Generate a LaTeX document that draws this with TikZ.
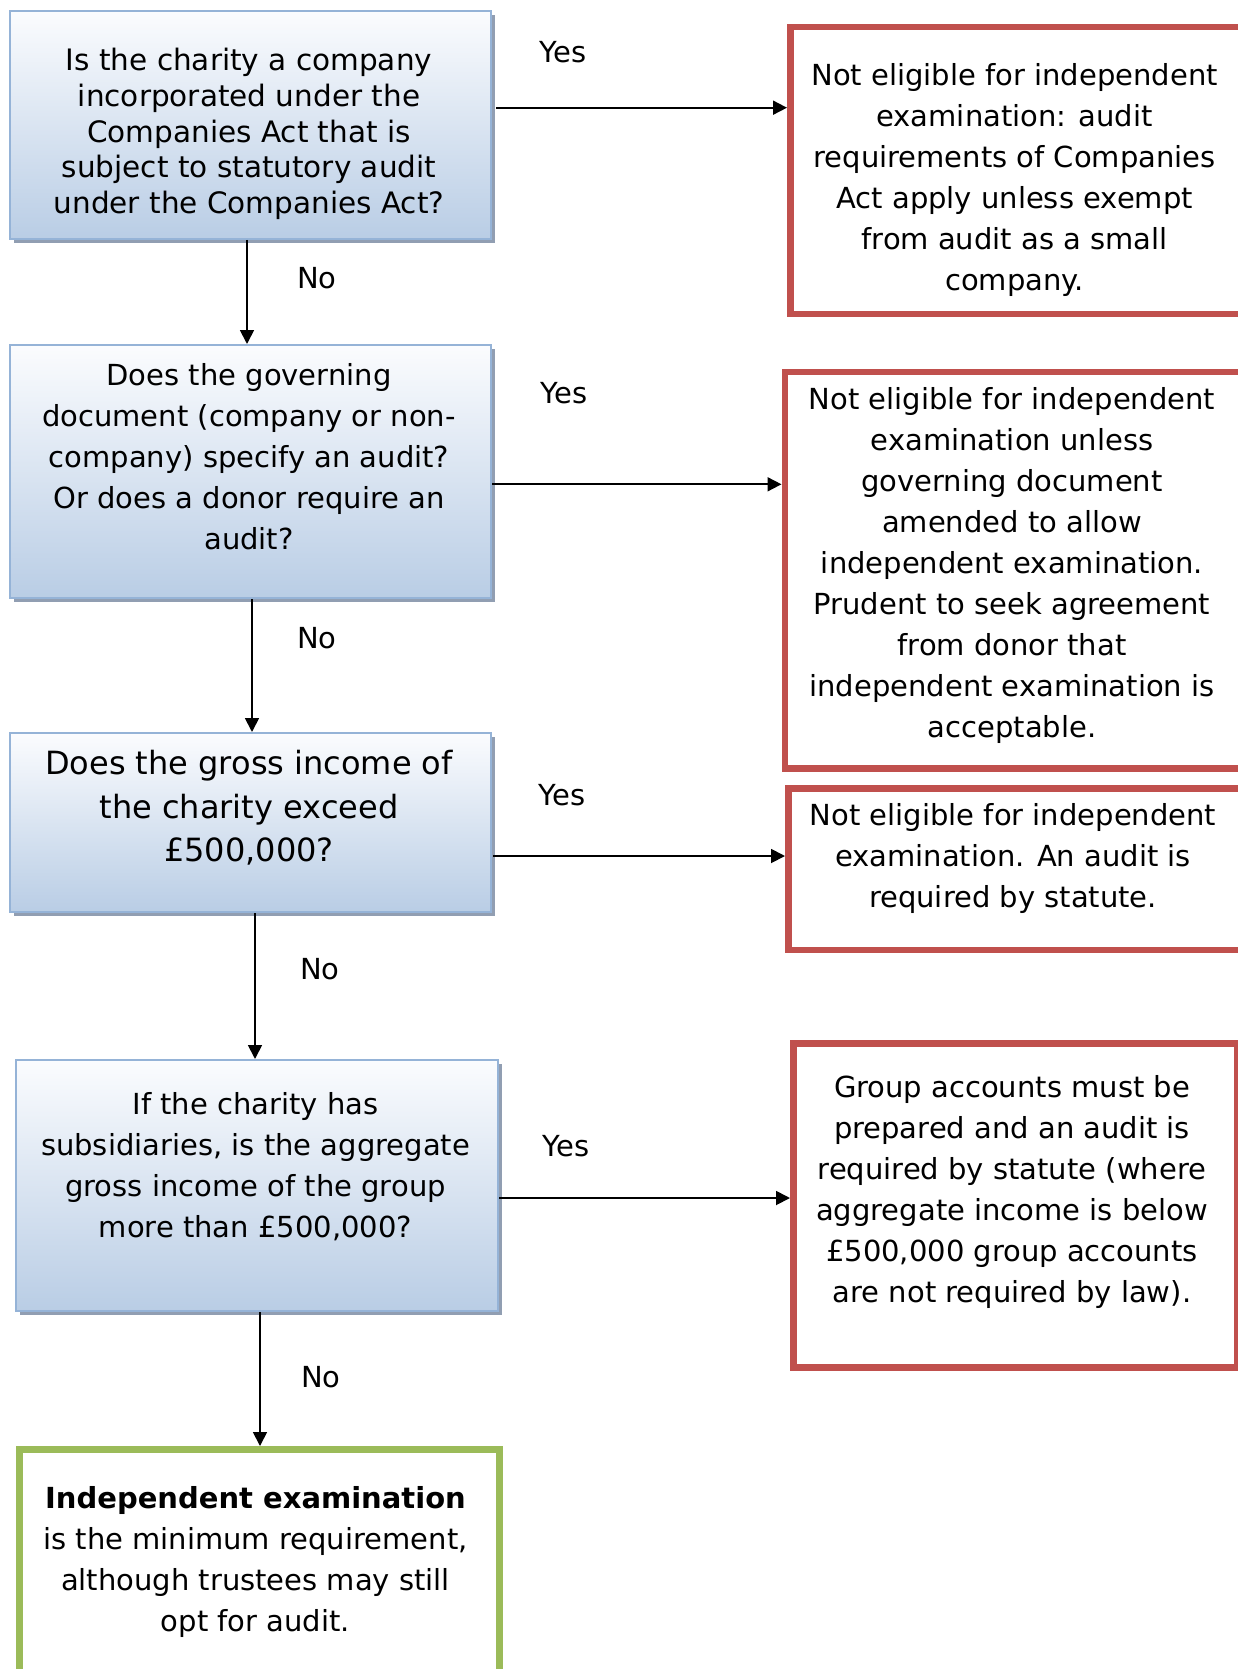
\documentclass[tikz,border=0pt]{standalone}
\usepackage{fontspec}
\setmainfont{DejaVu Sans}
\usetikzlibrary{arrows.meta,shadows}
\definecolor{qbot}{RGB}{185,205,229}
\definecolor{qtop}{RGB}{251,252,254}
\definecolor{qborder}{RGB}{149,179,215}
\definecolor{qshadow}{RGB}{145,158,178}
\definecolor{redb}{RGB}{192,80,77}
\definecolor{greenb}{RGB}{155,187,89}
\begin{document}
\begin{tikzpicture}[x=1pt,y=-1pt,
 qbox/.style={rectangle, anchor=north west, draw=qborder, line width=2pt,
   top color=qtop, bottom color=qbot,
   drop shadow={shadow xshift=4pt, shadow yshift=-4pt, fill=qshadow, opacity=1}},
 rbox/.style={rectangle, anchor=north west, draw=redb, line width=6.5pt, fill=white},
 gbox/.style={rectangle, anchor=north west, draw=greenb, line width=6.5pt, fill=white},
 txt/.style={align=center, inner sep=0pt, font=\fontsize{29}{41}\selectfont},
 lbl/.style={inner sep=0pt, font=\fontsize{29}{35}\selectfont},
 arr/.style={-{Triangle[length=14pt,width=14pt]}, line width=1.8pt, draw=black}]
\useasboundingbox (0,0) rectangle (1238,1669);
\clip (0,0) rectangle (1238,1669);
\fill[white] (0,0) rectangle (1238,1669);

% question boxes
\node[qbox, minimum width=481pt, minimum height=228pt] (q1) at (9,10) {};
\node[qbox, minimum width=481pt, minimum height=253pt] (q2) at (9,344) {};
\node[qbox, minimum width=481pt, minimum height=179pt] (q3) at (9,732) {};
\node[qbox, minimum width=482pt, minimum height=251pt] (q4) at (15,1059) {};

% outcome boxes
\node[rbox, minimum width=456pt, minimum height=287pt] (r1) at (787,24) {};
\node[rbox, minimum width=461.5pt, minimum height=396.5pt] (r2) at (781.5,368.5) {};
\node[rbox, minimum width=458pt, minimum height=161.5pt] (r3) at (785,785) {};
\node[rbox, minimum width=444pt, minimum height=324pt] (r4) at (790,1040) {};
\node[gbox, minimum width=480pt, minimum height=244pt] (g) at (16,1446) {};

% texts
\node[txt, font=\fontsize{29.5}{35.7}\selectfont] (q1t) at (249,134)
 {Is the charity a company\\incorporated under the\\Companies Act that is\\subject to statutory audit\\under the Companies Act?};
\node[txt] (q2t) at (249,456.7)
 {Does the governing\\document (company or non-\\company) specify an audit?\\Or does a donor require an\\audit?};
\node[txt, font=\fontsize{32}{43.6}\selectfont] (q3t) at (249,808)
 {Does the gross income of\\the charity exceed\\£500,000?};
\node[txt] (q4t) at (255.5,1166.7)
 {If the charity has\\subsidiaries, is the aggregate\\gross income of the group\\more than £500,000?};
\node[txt] (r1t) at (1014.6,180)
 {Not eligible for independent\\examination: audit\\requirements of Companies\\Act apply unless exempt\\from audit as a small\\company.};
\node[txt] (r2t) at (1012,565)
 {Not eligible for independent\\examination unless\\governing document\\amended to allow\\independent examination.\\Prudent to seek agreement\\from donor that\\independent examination is\\acceptable.};
\node[txt] (r3t) at (1013,858)
 {Not eligible for independent\\examination. An audit is\\required by statute.};
\node[txt] (r4t) at (1012,1191.5)
 {Group accounts must be\\prepared and an audit is\\required by statute (where\\aggregate income is below\\£500,000 group accounts\\are not required by law).};
\node[txt] (gt) at (255.5,1561.5)
 {\textbf{Independent examination}\\is the minimum requirement,\\although trustees may still\\opt for audit.};

% labels
\node[lbl] (y1) at (563,52) {Yes};
\node[lbl] (n1) at (317,278) {No};
\node[lbl] (y2) at (564,393) {Yes};
\node[lbl] (n2) at (317,638) {No};
\node[lbl] (y3) at (562,795) {Yes};
\node[lbl] (n3) at (320,969) {No};
\node[lbl] (y4) at (566,1146) {Yes};
\node[lbl] (n4) at (321,1377) {No};

% connector guides
\coordinate (ha) at (0,107.7);
\coordinate (hb) at (0,484.3);
\coordinate (hc) at (0,856);
\coordinate (hd) at (0,1198);
\coordinate (va) at (247,0);
\coordinate (vb) at (252,0);
\coordinate (vc) at (255,0);
\coordinate (vd) at (260,0);

\draw[arr, shorten <=4pt] (q1.east |- ha) -- (r1.west |- ha);
\draw[arr] (q2.east |- hb) -- (r2.west |- hb);
\draw[arr, shorten <=1pt] (q3.east |- hc) -- (r3.west |- hc);
\draw[arr] (q4.east |- hd) -- (r4.west |- hd);

\draw[arr] (q1.south -| va) -- (q2.north -| va);
\draw[arr] (q2.south -| vb) -- (q3.north -| vb);
\draw[arr] (q3.south -| vc) -- (q4.north -| vc);
\draw[arr] (q4.south -| vd) -- (g.north -| vd);
\end{tikzpicture}
\end{document}
